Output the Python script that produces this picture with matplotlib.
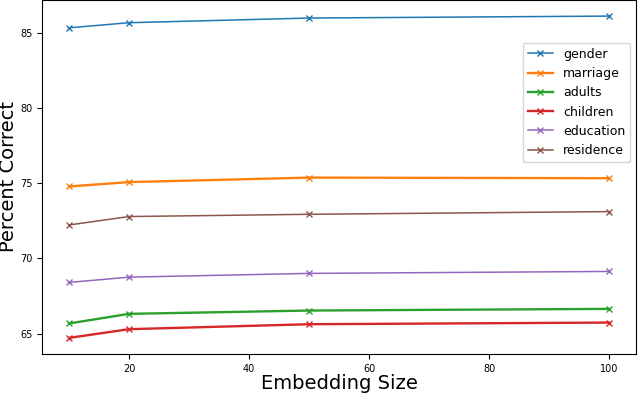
import matplotlib
matplotlib.use("Agg")
import matplotlib.pyplot as plt

sizes = [10, 20, 50, 100]

gender = [85.33, 85.67, 85.98, 86.11]
marriage = [74.78, 75.07, 75.37, 75.33]
adults = [65.67, 66.31, 66.53, 66.64]
children = [64.71, 65.29, 65.62, 65.73]
education = [68.40, 68.75, 69.00, 69.13]
residence = [72.22, 72.78, 72.93, 73.11]

series = [
    ("gender", gender, 1.1),
    ("marriage", marriage, 1.7),
    ("adults", adults, 1.7),
    ("children", children, 1.7),
    ("education", education, 1.1),
    ("residence", residence, 1.1),
]

fig = plt.figure(figsize=(6.38, 3.96), dpi=100)
ax = fig.add_axes([42 / 638, 1 - 354 / 396, 594 / 638, 354 / 396])

for name, vals, lw in series:
    ax.plot(sizes, vals, marker="x", markersize=5, linewidth=lw, label=name)

ax.set_xticks([20, 40, 60, 80, 100])
ax.set_yticks([65, 70, 75, 80, 85])
ax.tick_params(labelsize=7)
ax.set_xlabel("Embedding Size", fontsize=14, va="center")
ax.set_ylabel("Percent Correct", fontsize=14, va="center")
ax.xaxis.set_label_coords(0.5, -0.082)
ax.yaxis.set_label_coords(-0.056, 0.5)
ax.legend(loc="upper right", bbox_to_anchor=(0.99, 0.879), borderaxespad=0, fontsize=9)

fig.savefig("out.png", dpi=100)
